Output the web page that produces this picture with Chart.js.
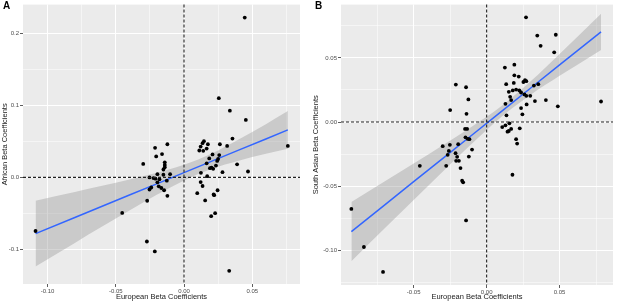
<!DOCTYPE html>
<html>
<head>
  <meta charset="utf-8">
  <title>European vs African / South Asian Beta Coefficients</title>
  <script src="https://cdn.jsdelivr.net/npm/chart.js"></script>
  <style>
    html, body { margin: 0; padding: 0; background: #fff; }
    body {
      width: 617px;
      height: 301px;
      position: relative;
      overflow: hidden;
      font-family: "Liberation Sans", Arial, sans-serif;
    }
    canvas { position: absolute; top: 0; }
    #chartA { left: 0; }
    #chartB { left: 305px; }
    .tag {
      position: absolute;
      top: 1px;
      font-weight: bold;
      font-size: 10px;
      line-height: 10px;
      color: #000;
    }
  </style>
</head>
<body>
<canvas id="chartA" width="305" height="301"></canvas>
<canvas id="chartB" width="312" height="301"></canvas>
<div class="tag" style="left:3px">A</div>
<div class="tag" style="left:315px">B</div>

<script>
  // Panel A: European (x) vs African (y) beta coefficients
  const aEur = [-0.1088, -0.0453, -0.0272, -0.0214, -0.0299, -0.0212, -0.0122, -0.0204, -0.0161, -0.0141,
                -0.0141, -0.0141, -0.0151, -0.0102, -0.0195, -0.0151, -0.0253, -0.0224, -0.0209, -0.0180,
                -0.0126, -0.0195, -0.0185, -0.0166, -0.0146, -0.0253, -0.0122, -0.0270, -0.0240,
                 0.0445,  0.0255,  0.0336,  0.0453,  0.0355,  0.0263,  0.0316,  0.0761,  0.0146,  0.0136,
                 0.0122,  0.0175,  0.0166,  0.0112,  0.0141,  0.0209,  0.0258,  0.0250,  0.0243,  0.0185,
                 0.0166,  0.0202,  0.0214,  0.0389,  0.0124,  0.0170,  0.0282,  0.0469,  0.0122,  0.0136,
                 0.0097,  0.0155,  0.0217,  0.0221,  0.0246,  0.0199,  0.0228,  0.0331,  0.0234,  0.0190];
  const aAfr = [-0.0744, -0.0493, -0.0890, -0.1027,  0.0188,  0.0411,  0.0461,  0.0292,  0.0324,  0.0210,
                 0.0174,  0.0141,  0.0110,  0.0045,  0.0045,  0.0037,  0.0000, -0.0009, -0.0018, -0.0027,
                -0.0045, -0.0068, -0.0123, -0.0147, -0.0178, -0.0168, -0.0255, -0.0324, -0.0140,
                 0.2220,  0.1100,  0.0927,  0.0799,  0.0539,  0.0461,  0.0438,  0.0438,  0.0503,  0.0475,
                 0.0429,  0.0461,  0.0401,  0.0374,  0.0370,  0.0319,  0.0311,  0.0256,  0.0229,  0.0264,
                 0.0196,  0.0137,  0.0119,  0.0182,  0.0064,  0.0018,  0.0073,  0.0082, -0.0064, -0.0119,
                -0.0219, -0.0319, -0.0237, -0.0247, -0.0178, -0.0538, -0.0497, -0.1297,  0.0164,  0.0128];

  // Panel A: fitted line with its grey confidence band
  const aFitX  = [-0.1088, -0.08, -0.06, -0.04, -0.02, 0, 0.02, 0.04, 0.06, 0.0761];
  const aFitY  = [-0.0781, -0.0556, -0.0400, -0.0245, -0.0089, 0.0067, 0.0223, 0.0379, 0.0534, 0.0660];
  const aFitHi = [-0.0324, -0.0203, -0.0117, -0.0030, 0.0064, 0.0175, 0.0328, 0.0525, 0.0740, 0.0921];
  const aFitLo = [-0.1238, -0.0909, -0.0683, -0.0460, -0.0242, -0.0041, 0.0118, 0.0233, 0.0328, 0.0399];

  // Panel B: European (x) vs South Asian (y) beta coefficients
  const bEur = [ 0.0270,  0.0347,  0.0474,  0.0370,  0.0463,  0.0125,  0.0190,  0.0190,  0.0220,  0.0263,
                 0.0272,  0.0252,  0.0134,  0.0186,  0.0354,  0.0324,  0.0202,  0.0179,  0.0224,  0.0152,
                 0.0236,  0.0259,  0.0272,  0.0299,  0.0161,  0.0168,  0.0331,  0.0406,  0.0129,  0.0274,
                 0.0488,  0.0784,  0.0236,  0.0245,  0.0136, -0.0211, -0.0141, -0.0125, -0.0250, -0.0138,
                -0.0148, -0.0134, -0.0145, -0.0129, -0.0118,  0.0107,  0.0129,  0.0156,  0.0143,  0.0152,
                 0.0168,  0.0227,  0.0202,  0.0209, -0.0301, -0.0252, -0.0195, -0.0100, -0.0259, -0.0267,
                -0.0213, -0.0202, -0.0209, -0.0190, -0.0122, -0.0458, -0.0277, -0.0179, -0.0168, -0.0161,
                -0.0141,  0.0177, -0.0927, -0.0841, -0.0710];
  const bSas = [ 0.0816,  0.0674,  0.0680,  0.0594,  0.0543,  0.0424,  0.0447,  0.0364,  0.0354,  0.0326,
                 0.0318,  0.0312,  0.0295,  0.0305,  0.0295,  0.0284,  0.0253,  0.0246,  0.0246,  0.0235,
                 0.0230,  0.0215,  0.0204,  0.0204,  0.0196,  0.0171,  0.0163,  0.0171,  0.0142,  0.0137,
                 0.0122,  0.0160,  0.0109,  0.0060,  0.0052,  0.0292,  0.0271,  0.0176,  0.0093,  0.0064,
                -0.0054, -0.0054, -0.0119, -0.0132, -0.0134, -0.0039, -0.0026, -0.0010, -0.0075, -0.0070,
                -0.0054, -0.0049, -0.0134, -0.0168, -0.0188, -0.0178, -0.0173, -0.0215, -0.0225, -0.0256,
                -0.0243, -0.0271, -0.0302, -0.0302, -0.0269, -0.0341, -0.0341, -0.0359, -0.0457, -0.0470,
                -0.0767, -0.0411, -0.0677, -0.0974, -0.1168];

  // Panel B: fitted line with its grey confidence band
  const bFitX  = [-0.0927, -0.07, -0.05, -0.03, -0.01, 0.01, 0.03, 0.05, 0.0784];
  const bFitY  = [-0.0854, -0.0647, -0.0465, -0.0283, -0.0101, 0.0081, 0.0263, 0.0445, 0.0703];
  const bFitHi = [-0.0624, -0.0464, -0.0323, -0.0181, -0.0035, 0.0122, 0.0315, 0.0530, 0.0844];
  const bFitLo = [-0.1084, -0.0830, -0.0607, -0.0385, -0.0167, 0.0040, 0.0211, 0.0360, 0.0562];

  // labelled (major) ticks; minor grid lines sit halfway between them
  const aXMajor = [-0.10, -0.05, 0.00, 0.05];
  const aYMajor = [-0.1, 0.0, 0.1, 0.2];
  const bXMajor = [-0.05, 0.00, 0.05];
  const bYMajor = [-0.10, -0.05, 0.00, 0.05];

  const FONT = '"Liberation Sans", Arial, sans-serif';
  const xy = (xs, ys) => xs.map((x, i) => ({ x, y: ys[i] }));
  const isMajor = (list, v) => list.some(m => Math.abs(m - v) < 1e-9);

  // ggplot-like grey panel
  const panelBg = {
    id: 'panelBg',
    beforeDraw(chart) {
      const { ctx, chartArea: a } = chart;
      ctx.save();
      ctx.fillStyle = '#EBEBEB';
      ctx.fillRect(a.left, a.top, a.right - a.left, a.bottom - a.top);
      ctx.restore();
    }
  };

  // dashed reference lines at x = 0 and y = 0
  const zeroLines = {
    id: 'zeroLines',
    afterDatasetsDraw(chart) {
      const { ctx, chartArea: a, scales } = chart;
      const x0 = scales.x.getPixelForValue(0);
      const y0 = scales.y.getPixelForValue(0);
      ctx.save();
      ctx.strokeStyle = '#222';
      ctx.lineWidth = 1.1;
      ctx.setLineDash([3, 2]);
      ctx.beginPath();
      ctx.moveTo(a.left, y0); ctx.lineTo(a.right, y0);
      ctx.moveTo(x0, a.top); ctx.lineTo(x0, a.bottom);
      ctx.stroke();
      ctx.restore();
    }
  };

  function axis(o) {
    return {
      type: 'linear',
      min: o.min,
      max: o.max,
      border: { display: false },
      grid: {
        color: '#FFFFFF',
        lineWidth: c => isMajor(o.major, c.tick.value) ? 1 : 0.5,
        tickColor: c => isMajor(o.major, c.tick.value) ? '#333333' : 'rgba(0,0,0,0)',
        tickLength: 3,
        tickWidth: 0.8
      },
      ticks: {
        stepSize: o.step,
        includeBounds: false,
        autoSkip: false,
        maxRotation: 0,
        padding: 1,
        color: '#4D4D4D',
        font: { family: FONT, size: 6 },
        callback: v => isMajor(o.major, v) ? v.toFixed(o.digits) : ''
      },
      title: {
        display: true,
        text: o.title,
        color: '#1A1A1A',
        font: { family: FONT, size: 7.5 },
        padding: 0
      },
      afterFit: o.fit
    };
  }

  function makeChart(id, p) {
    return new Chart(document.getElementById(id), {
      type: 'scatter',
      data: {
        datasets: [
          { data: xy(p.xs, p.ys), pointRadius: 1.9, pointBackgroundColor: '#000', pointBorderWidth: 0, order: 0 },
          { type: 'line', data: xy(p.fitX, p.fitY), borderColor: '#3366FF', borderWidth: 1.5,
            pointRadius: 0, fill: false, order: 1 },
          { type: 'line', data: xy(p.fitX, p.fitHi), borderWidth: 0, pointRadius: 0,
            fill: '+1', backgroundColor: 'rgba(153,153,153,0.4)', cubicInterpolationMode: 'monotone', order: 2 },
          { type: 'line', data: xy(p.fitX, p.fitLo), borderWidth: 0, pointRadius: 0,
            fill: false, cubicInterpolationMode: 'monotone', order: 3 }
        ]
      },
      options: {
        responsive: false,
        animation: false,
        events: [],
        layout: { padding: p.padding },
        plugins: { legend: { display: false }, tooltip: { enabled: false } },
        scales: { x: axis(p.x), y: axis(p.y) }
      },
      plugins: [panelBg, zeroLines]
    });
  }

  makeChart('chartA', {
    xs: aEur, ys: aAfr, fitX: aFitX, fitY: aFitY, fitHi: aFitHi, fitLo: aFitLo,
    padding: { left: 0, right: 5, top: 1, bottom: 0 },
    x: { min: -0.118, max: 0.085, step: 0.025, major: aXMajor, digits: 2,
         title: 'European Beta Coefficients', fit: s => { s.height = 17; } },
    y: { min: -0.148, max: 0.240, step: 0.05, major: aYMajor, digits: 1,
         title: 'African Beta Coefficients', fit: s => { s.width = 23; } }
  });

  makeChart('chartB', {
    xs: bEur, ys: bSas, fitX: bFitX, fitY: bFitY, fitHi: bFitHi, fitLo: bFitLo,
    padding: { left: 6, right: 1, top: 3, bottom: 0 },
    x: { min: -0.0998, max: 0.0866, step: 0.025, major: bXMajor, digits: 2,
         title: 'European Beta Coefficients', fit: s => { s.height = 16; } },
    y: { min: -0.127, max: 0.0915, step: 0.025, major: bYMajor, digits: 2,
         title: 'South Asian Beta Coefficients', fit: s => { s.width = 30; } }
  });
</script>
</body>
</html>
